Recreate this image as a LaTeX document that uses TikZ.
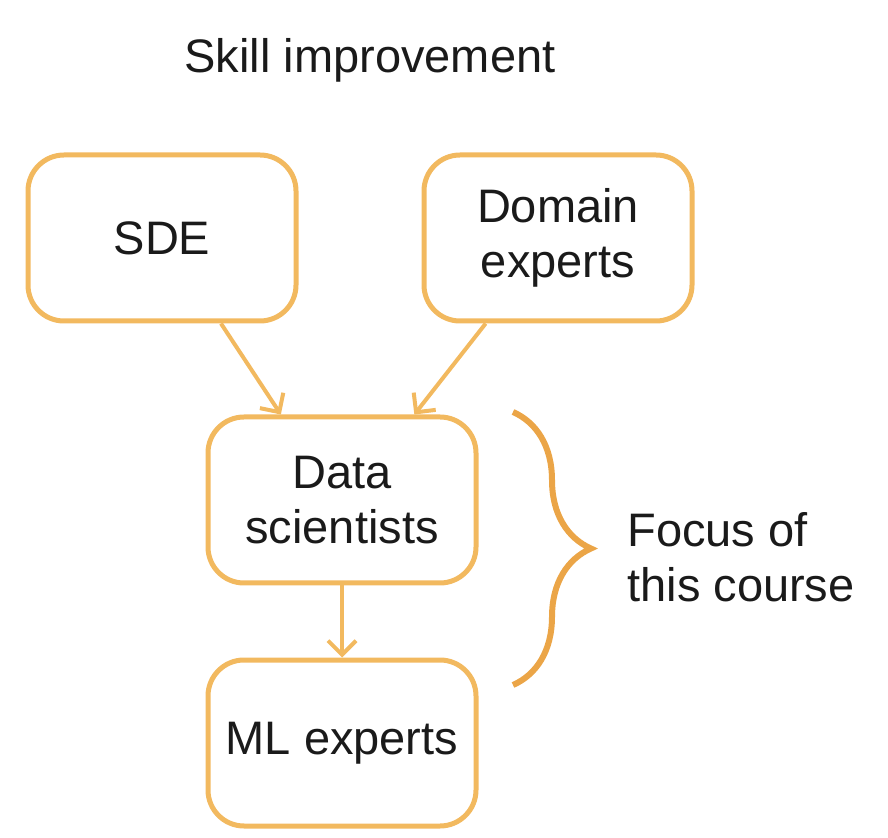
\documentclass[tikz,border=0pt]{standalone}
\usepackage{fontspec}
\setmainfont{Liberation Sans}
\usetikzlibrary{arrows.meta,calc,decorations.pathreplacing}
\definecolor{boxorange}{HTML}{F2B95F}
\definecolor{braceorange}{HTML}{EBA547}
\definecolor{textgray}{HTML}{1A1A1A}

\begin{document}
\begin{tikzpicture}[x=0.5pt,y=-0.5pt,
  font=\fontsize{23.5}{27.5}\selectfont, text=textgray,
  role/.style={draw=boxorange, line width=2.5pt, rounded corners=18pt, minimum width=134pt, minimum height=83pt, inner sep=0pt, align=center},
  flow/.style={draw=boxorange, line width=2pt, -{Straight Barb[length=7pt,width=14pt,line width=2pt]}}]
\useasboundingbox (0,0) rectangle (888,838);
\node (title) at (370,60) {Skill improvement};
\node [role] (sde) at (162,238) {SDE};
\node [role] (domain) at (558,238) {Domain\\experts};
\node [role] (ds) at (342,500) {Data\\scientists};
\node [role] (ml) at (342,743) {ML experts};
\draw [flow] ($(sde.south west)!0.716!(sde.south east)$) -- ($(ds.north west)!0.276!(ds.north east)$);
\draw [flow] ($(domain.south west)!0.235!(domain.south east)$) -- ($(ds.north west)!0.765!(ds.north east)$);
\draw [flow] (ds.south) -- (ml.north);
\coordinate (bracetop) at (513,412);
\coordinate (bracebot) at (513,685);
\draw [braceorange, line width=3pt, decorate, decoration={brace, amplitude=39pt}] (bracetop) -- (bracebot);
\node [anchor=west, align=left, inner sep=0pt] (focus) at (627,557) {Focus of\\this course};
\end{tikzpicture}
\end{document}
